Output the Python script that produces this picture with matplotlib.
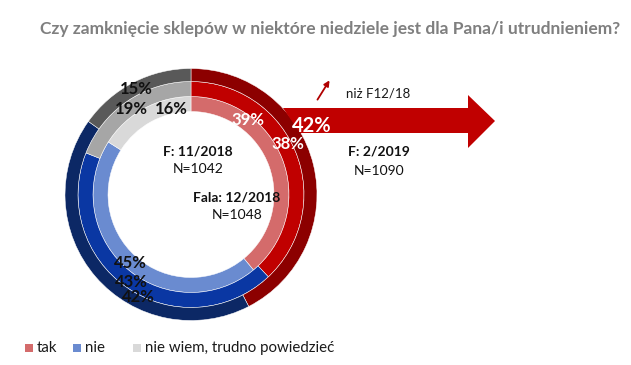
import matplotlib.pyplot as plt
from matplotlib.patches import Polygon

plt.rcParams['font.family'] = ['Lato', 'DejaVu Sans']

W, H = 631, 365

categories = ['tak', 'nie', 'nie wiem, trudno powiedzieć']
waves = ['F: 11/2018', 'Fala: 12/2018', 'F: 2/2019']
sizes = ['N=1042', 'N=1048', 'N=1090']
# inner -> outer ring
values = [[39, 45, 16],
          [38, 43, 19],
          [42, 42, 15]]
ring_colors = [['#d46b6b', '#6a8bd0', '#d9d9d9'],
               ['#c00000', '#0a37a3', '#a6a6a6'],
               ['#8c0000', '#0c2865', '#595959']]
radii = [98, 113, 126]
widths = [15, 15, 13]


def py(y):
    # pixel row -> data y (origin at bottom)
    return H - y


fig = plt.figure(figsize=(W / 100, H / 100), dpi=100)
ax = fig.add_axes([0, 0, 1, 1])

cx, cy = 191, py(194.5)

for vals, cols, r, w in zip(values, ring_colors, radii, widths):
    ax.pie(vals, radius=r, center=(cx, cy), startangle=90, counterclock=False,
           colors=cols, wedgeprops=dict(width=w, edgecolor='white', linewidth=0.35))

# big arrow towards the latest wave
arrow = Polygon([(283, py(108)), (468, py(108)), (468, py(95)), (495, py(121)),
                 (468, py(148)), (468, py(133)), (300, py(133))],
                closed=True, facecolor='#c00000', edgecolor='none', zorder=5)
ax.add_patch(arrow)
ax.annotate('', xy=(331, py(78)), xytext=(316, py(102)),
            arrowprops=dict(arrowstyle='-|>', color='#b00000', lw=1.3,
                            mutation_scale=8), zorder=6)
ax.text(378, py(94), 'niż F12/18', fontsize=9.5, ha='center', va='center',
        color='#1a1a1a', zorder=6)

# percentage labels (tak: white, others dark)
pct_pos = {
    (0, 0): (248, 120), (1, 0): (288, 144), (2, 0): (312, 126),
    (0, 1): (130, 263), (1, 1): (131, 282), (2, 1): (138, 297),
    (0, 2): (171, 109), (1, 2): (131, 109), (2, 2): (136, 89),
}
for (ring, cat), (x, y) in pct_pos.items():
    color = 'white' if cat == 0 else '#111111'
    fs = 14.5 if (ring, cat) == (2, 0) else 12
    ax.text(x, py(y), f'{values[ring][cat]}%', fontsize=fs, fontweight='bold',
            color=color, ha='center', va='center', zorder=7)

# wave labels
wave_pos = [(198, 151, 169), (237, 198, 215), (379, 152, 171)]
for name, n, (x, y1, y2) in zip(waves, sizes, wave_pos):
    ax.text(x, py(y1), name, fontsize=10, fontweight='bold', color='#111111',
            ha='center', va='center', zorder=7)
    ax.text(x, py(y2), n, fontsize=10, color='#111111',
            ha='center', va='center', zorder=7)

ax.text(330, py(29), 'Czy zamknięcie sklepów w niektóre niedziele jest dla Pana/i utrudnieniem?',
        fontsize=12.5, fontweight='bold', color='#7f7f7f', ha='center', va='center')

# legend
leg_x = [25, 73, 133]
for x, label, col in zip(leg_x, categories, ring_colors[0]):
    ax.add_patch(plt.Rectangle((x, py(352)), 8, 8, facecolor=col, edgecolor='none'))
    ax.text(x + 12, py(348), label, fontsize=10.8, color='#1a1a1a',
            ha='left', va='center')

ax.set_xlim(0, W)
ax.set_ylim(0, H)
ax.set_aspect('equal')
ax.axis('off')

fig.savefig('out.png', dpi=100)
